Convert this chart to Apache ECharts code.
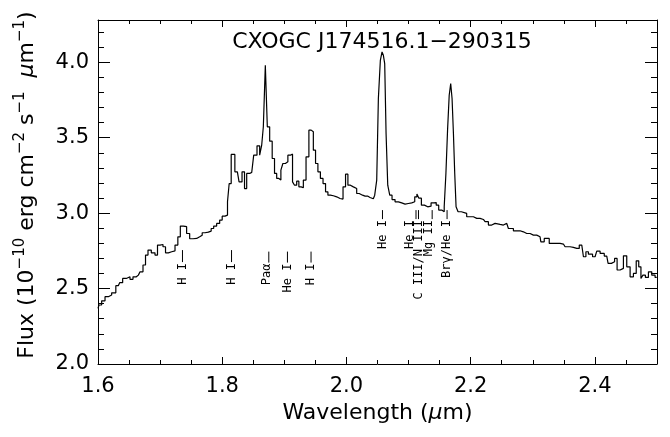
<!DOCTYPE html>
<html>
<head>
<meta charset="utf-8">
<script src="https://cdn.jsdelivr.net/npm/echarts@6/dist/echarts.min.js"></script>
<style>html,body{margin:0;padding:0;background:#fff;}#c{width:670px;height:437px;}</style>
</head>
<body>
<div id="c"></div>
<script>
// ---- data ----
const wavelength = [
1.600,1.6032,1.6086,1.614,1.6193,1.6247,1.6327,1.637,1.6424,1.6488,1.6542,1.6585,1.665,1.6703,1.6746,1.6784,1.6826,1.689,1.6945,1.6971,
1.7025,1.7068,1.7106,1.716,1.7213,1.7267,1.7304,1.7347,1.74,1.7454,1.7498,1.7562,1.7615,1.7659,1.7696,1.775,1.7803,1.7841,1.7884,1.7937,
1.7981,1.8018,1.8072,1.8098,1.8126,1.8163,1.8244,1.8298,1.834,1.8378,1.841,1.8475,1.8539,1.8581,1.8625,1.8646,1.8678,1.871,1.8742,1.8786,
1.8823,1.8861,1.8893,1.8931,1.8958,1.8995,1.9038,1.9076,1.9119,1.9145,1.9183,1.9215,1.9253,1.929,1.9322,1.9377,1.9414,1.9451,1.9483,1.9522,
1.9559,1.9602,1.9644,1.9683,1.972,1.9763,1.9816,1.987,1.9924,1.9966,2.0005,2.0042,2.0085,2.0138,2.0192,2.0219,2.03,2.038,2.0433,2.0477,
2.0498,2.053,2.0562,2.0584,2.0605,2.0627,2.0649,2.0681,2.0713,2.0755,2.081,2.0863,2.0917,2.0971,2.1024,2.1078,2.1121,2.1148,2.1185,2.1228,
2.1282,2.1335,2.139,2.1427,2.1464,2.1507,2.156,2.1588,2.1615,2.1641,2.1668,2.1689,2.1712,2.1733,2.1754,2.1776,2.1818,2.1882,2.199,2.2098,
2.2205,2.2259,2.2312,2.2366,2.242,2.2527,2.2581,2.2634,2.2742,2.2849,2.2903,2.301,2.3117,2.3144,2.3225,2.3305,2.3386,2.3493,2.3547,2.3654,
2.3708,2.3789,2.3842,2.3869,2.3922,2.4003,2.4057,2.4111,2.4191,2.4234,2.4298,2.4336,2.4379,2.4433,2.4486,2.454,2.4594,2.4647,2.4684,2.4728,
2.4755,2.4792,2.4835,2.4889,2.4942,2.4996
];
const flux = [
2.369,2.391,2.419,2.446,2.457,2.472,2.519,2.539,2.567,2.578,2.561,2.578,2.589,2.611,2.656,2.722,2.755,2.737,2.722,2.788,
2.792,2.777,2.737,2.744,2.75,2.788,2.843,2.914,2.91,2.865,2.83,2.832,2.843,2.854,2.87,2.874,2.881,2.898,2.914,2.932,
2.954,2.98,2.987,3.075,3.196,3.389,3.274,3.207,3.274,3.163,3.263,3.27,3.384,3.446,3.384,3.45,3.572,3.98,3.572,3.477,
3.362,3.263,3.23,3.219,3.285,3.329,3.34,3.384,3.391,3.207,3.185,3.212,3.174,3.168,3.219,3.373,3.55,3.539,3.417,3.329,
3.274,3.23,3.196,3.141,3.119,3.115,3.108,3.097,3.093,3.174,3.258,3.185,3.174,3.163,3.13,3.119,3.113,3.104,3.095,3.119,
3.219,3.76,4.013,4.068,4.046,3.991,3.528,3.185,3.119,3.09,3.075,3.068,3.06,3.064,3.068,3.075,3.108,3.126,3.099,3.053,
3.042,3.046,3.068,3.07,3.053,3.02,3.009,3.042,3.263,3.55,3.781,3.859,3.76,3.528,3.263,3.042,3.009,2.998,2.976,2.965,
2.958,2.943,2.921,2.932,2.925,2.921,2.932,2.898,2.883,2.876,2.865,2.854,2.843,2.81,2.832,2.799,2.799,2.795,2.777,2.773,
2.766,2.788,2.711,2.744,2.728,2.711,2.748,2.733,2.715,2.667,2.678,2.7,2.623,2.634,2.717,2.644,2.578,2.6,2.684,2.644,
2.567,2.589,2.574,2.611,2.589,2.574
];
// line identifications
const lineNames = ["H I","H I","Paα","He I","H I","He I","He I","C III/N III","Mg II","Brγ/He I"];
const lineWaves = [1.736,1.815,1.875,1.905,1.943,2.058,2.112,2.116,2.138,2.162];
const titleText = "CXOGC J174516.1\u2212290315";
const xTickLabels = ["1.6","1.8","2.0","2.2","2.4"];
const yTickLabels = ["2.0","2.5","3.0","3.5","4.0"];

// ---- layout (not data) ----
const labelTopY = [2.755,2.755,2.745,2.745,2.745,3.02,3.02,3.02,3.02,3.02];
const labelDx = [0,0,-2,0,0,0,-6,0,-3,0];
const markerLen = [12,12,11,11,11,9,9,9,9,9];

const specData = wavelength.map((w,i)=>[w, flux[i]]);
const lineData = lineWaves.map((w,i)=>[w, labelTopY[i]]);

const FONT = '"DejaVu Sans", sans-serif';
const blk = '#000';
function fmtX(v){ const s = v.toFixed(1); return xTickLabels.indexOf(s) >= 0 ? s : ''; }
function fmtY(v){ const s = v.toFixed(1); return yTickLabels.indexOf(s) >= 0 ? s : ''; }

function xAx(pos, interval, len, opts) {
  return Object.assign({
    type:'value', min:1.6, max:2.5, interval:interval, position:pos,
    axisLine:{show:false, onZero:false, lineStyle:{color:blk, width:1}},
    axisTick:{show:true, inside:true, length:len, lineStyle:{color:blk, width:1}},
    axisLabel:{show:false}, splitLine:{show:false}
  }, opts||{});
}
function yAx(pos, interval, len, opts) {
  return Object.assign({
    type:'value', min:2.0, max:4.28, interval:interval, position:pos,
    axisLine:{show:false, onZero:false, lineStyle:{color:blk, width:1}},
    axisTick:{show:true, inside:true, length:len, lineStyle:{color:blk, width:1}},
    axisLabel:{show:false}, splitLine:{show:false}
  }, opts||{});
}

const chart = echarts.init(document.getElementById('c'), null, {renderer:'canvas'});
chart.setOption({
  backgroundColor:'#fff',
  animation:false,
  title:{
    text:titleText, left:377, top:26, textAlign:'center',
    textStyle:{color:blk, fontSize:22, fontWeight:'normal', fontFamily:FONT}
  },
  grid:{left:98, right:13, top:20, bottom:73, containLabel:false},
  xAxis:[
    xAx('bottom',0.2,7,{
      axisLine:{show:true, onZero:false, lineStyle:{color:blk, width:1}},
      axisLabel:{show:true, formatter:fmtX, showMaxLabel:false, color:blk, fontSize:21, fontFamily:FONT, margin:12},
      name:'{n|Wavelength (}{m|μ}{n|m)}', nameLocation:'middle', nameGap:36,
      nameTextStyle:{color:blk, rich:{
        n:{fontSize:22, fontFamily:FONT, color:blk},
        m:{fontSize:22, fontFamily:FONT, color:blk, fontStyle:'italic'}
      }}
    }),
    xAx('bottom',0.05,4),
    xAx('top',0.2,7,{axisLine:{show:true, onZero:false, lineStyle:{color:blk, width:1}}}),
    xAx('top',0.05,4)
  ],
  yAxis:[
    yAx('left',0.5,12,{
      axisLine:{show:true, onZero:false, lineStyle:{color:blk, width:1}},
      axisLabel:{show:true, formatter:fmtY, showMaxLabel:false, color:blk, fontSize:21, fontFamily:FONT, margin:9},
      name:'{n|Flux (10}{s|\u221210}{n| erg cm}{s|\u22122}{n| s}{s|\u22121}{n|  }{m|μ}{n|m}{s|\u22121}{n|)}',
      nameLocation:'middle', nameRotate:90, nameGap:56,
      nameTextStyle:{color:blk, padding:[0,0,0,14], rich:{
        n:{fontSize:22, fontFamily:FONT, color:blk, lineHeight:29, verticalAlign:'middle'},
        m:{fontSize:22, fontFamily:FONT, color:blk, fontStyle:'italic', lineHeight:29, verticalAlign:'middle'},
        s:{fontSize:15, fontFamily:FONT, color:blk, lineHeight:15, verticalAlign:'top'}
      }}
    }),
    yAx('left',0.1,6),
    yAx('right',0.5,12,{axisLine:{show:true, onZero:false, lineStyle:{color:blk, width:1}}}),
    yAx('right',0.1,6)
  ],
  series:[
    {
      type:'line', xAxisIndex:0, yAxisIndex:0, data:specData, step:'middle',
      showSymbol:false, symbol:'none', lineStyle:{color:blk, width:1.2}, z:3
    },
    {
      type:'custom', xAxisIndex:0, yAxisIndex:0, data:lineData, z:4,
      renderItem:function(params, api){
        const i = params.dataIndex;
        const p = api.coord([api.value(0), api.value(1)]);
        const L = markerLen[i];
        return {type:'group', children:[
          {type:'line', shape:{x1:p[0], y1:p[1], x2:p[0], y2:p[1]+L}, style:{stroke:blk, lineWidth:1}},
          {type:'text', x:p[0]+labelDx[i], y:p[1]+L+1, rotation:Math.PI/2,
           style:{text:lineNames[i], fill:blk, font:'12px "DejaVu Sans Mono", monospace', align:'right', verticalAlign:'middle'}}
        ]};
      }
    }
  ]
});
</script>
</body>
</html>
